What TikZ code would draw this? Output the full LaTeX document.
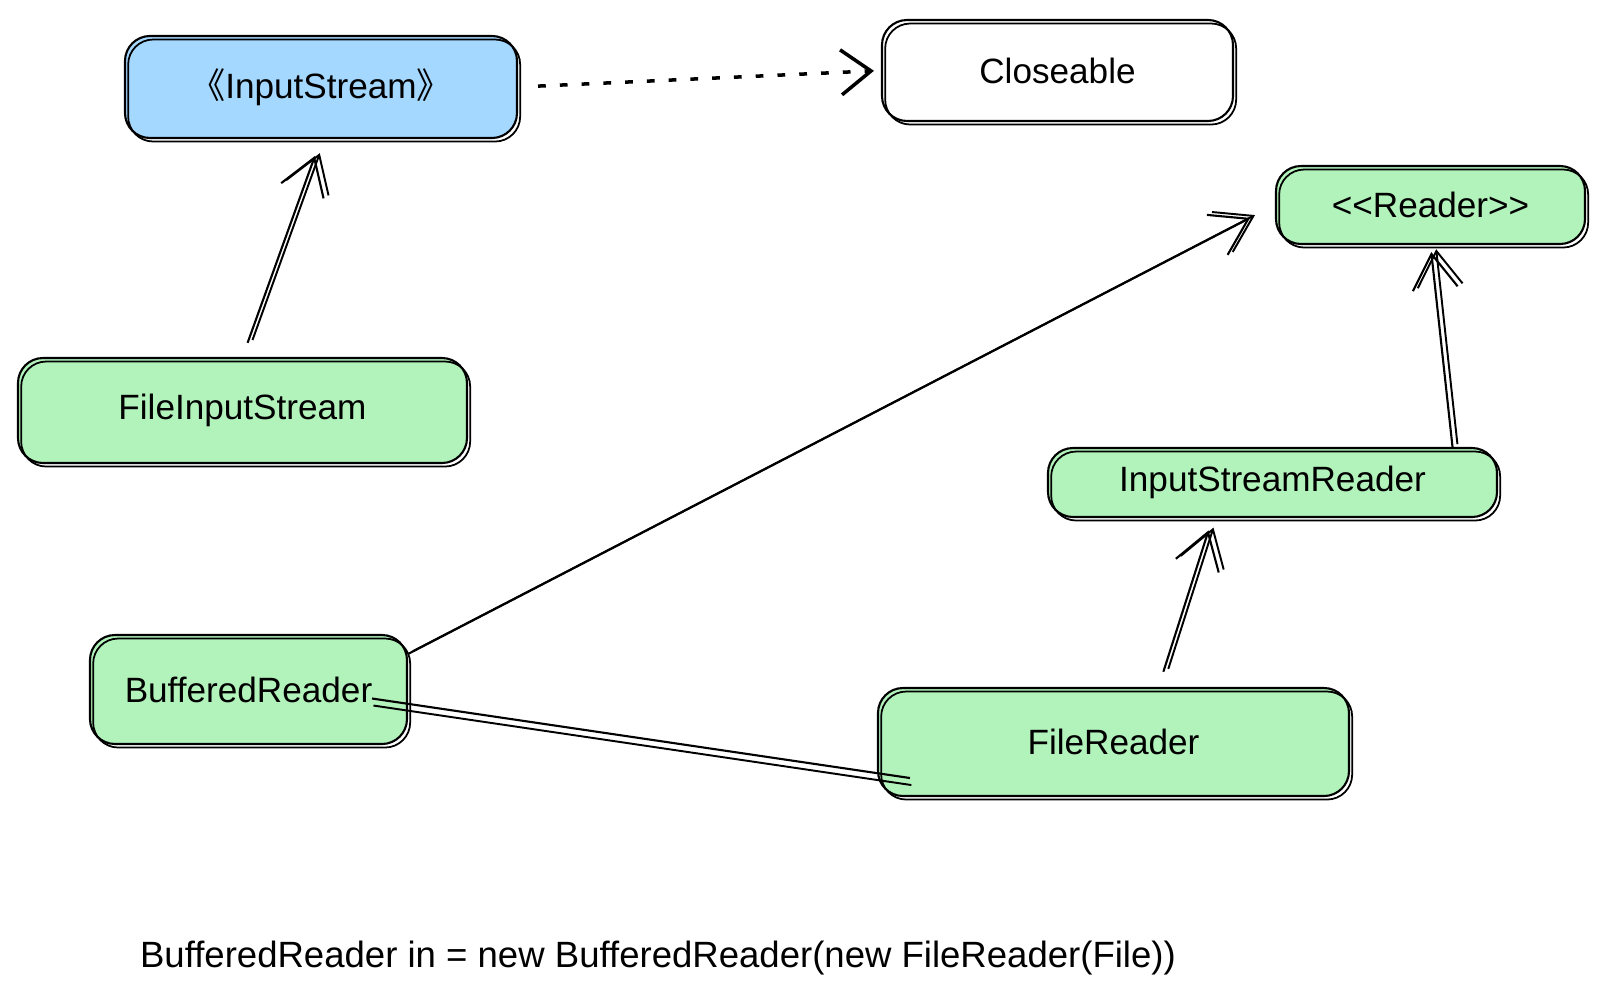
\documentclass[tikz,border=0pt]{standalone}
\usepackage{fontspec}
\setmainfont{Liberation Sans}
\newfontfamily\cjk{Noto Sans CJK SC}
\usetikzlibrary{arrows.meta}
\definecolor{skyfill}{HTML}{A5D8FF}
\definecolor{mintfill}{HTML}{B2F2BB}
\tikzstyle{cls} = [rectangle, draw, line width=0.6pt, rounded corners=2.5mm, font=\fontsize{10}{12}\selectfont,
  postaction={draw, line width=0.5pt, rounded corners=2.5mm, transform canvas={shift={(0.9pt,-1pt)}}}]
\tikzstyle{ifc} = [cls, fill=skyfill]
\tikzstyle{impl} = [cls, fill=mintfill]
\tikzset{edge/.style = {
    line width=0.6pt,
    -{Straight Barb[length=3.5mm,width=4.5mm]},
    postaction={draw, line width=0.55pt, transform canvas={shift={(1.4pt,0.8pt)}}}
  },
  realize/.style = {
    line width=1pt, dash pattern=on 2.2pt off 4pt,
    -{Straight Barb[length=3mm,width=4.5mm]}
  }
}

\begin{document}
\begin{tikzpicture}[x=1cm, y=-1cm]
            \useasboundingbox (0,0) rectangle (16.05,10.01);
            % vertices
            \node[ifc, minimum width=3.92cm, minimum height=1.02cm] (is) at (3.21, 0.87) {{\cjk 《}InputStream{\cjk 》}};
            \node[cls, fill=white, minimum width=3.51cm, minimum height=1.01cm] (cl) at (10.575, 0.705) {Closeable};
            \node[impl, minimum width=3.09cm, minimum height=0.78cm] (rd) at (14.305, 2.05) {<{}<Reader>{}>};
            \node[impl, minimum width=4.49cm, minimum height=1.05cm] (fis) at (2.425, 4.105) {FileInputStream};
            \node[impl, minimum width=4.49cm, minimum height=0.69cm] (isr) at (12.725, 4.825) {InputStreamReader};
            \node[impl, minimum width=3.17cm, minimum height=1.09cm] (br) at (2.485, 6.895) {BufferedReader};
            \node[impl, minimum width=4.71cm, minimum height=1.08cm] (fr) at (11.135, 7.42) {FileReader};
            \node[font=\fontsize{10.4}{12}\selectfont] (code) at (6.58, 9.58) {BufferedReader in = new BufferedReader(new FileReader(File))};

            %edges
            \draw[edge, shorten <=1.5mm, shorten >=1.8mm] (fis.north) to (is.south);
            \draw[realize, shorten <=2mm, shorten >=0.7mm] (is.east) to (cl.west);
            \draw[edge, shorten >=2.8mm] ([yshift=-2mm]br.north east) to (rd.west);
            \draw[edge, shorten >=0.7mm] ([xshift=18mm]isr.north) to (rd.south);
            \draw[edge, shorten <=1.6mm, shorten >=1.3mm] ([xshift=4.5mm]fr.north) to ([xshift=-6mm]isr.south);

            %association
            \draw[line width=0.6pt, postaction={draw, line width=0.55pt, transform canvas={shift={(0.4pt,-2pt)}}}]
              ([xshift=-3.6mm, yshift=-0.9mm]br.east) to ([xshift=3.3mm, yshift=-3.6mm]fr.west);
\end{tikzpicture}
\end{document}
